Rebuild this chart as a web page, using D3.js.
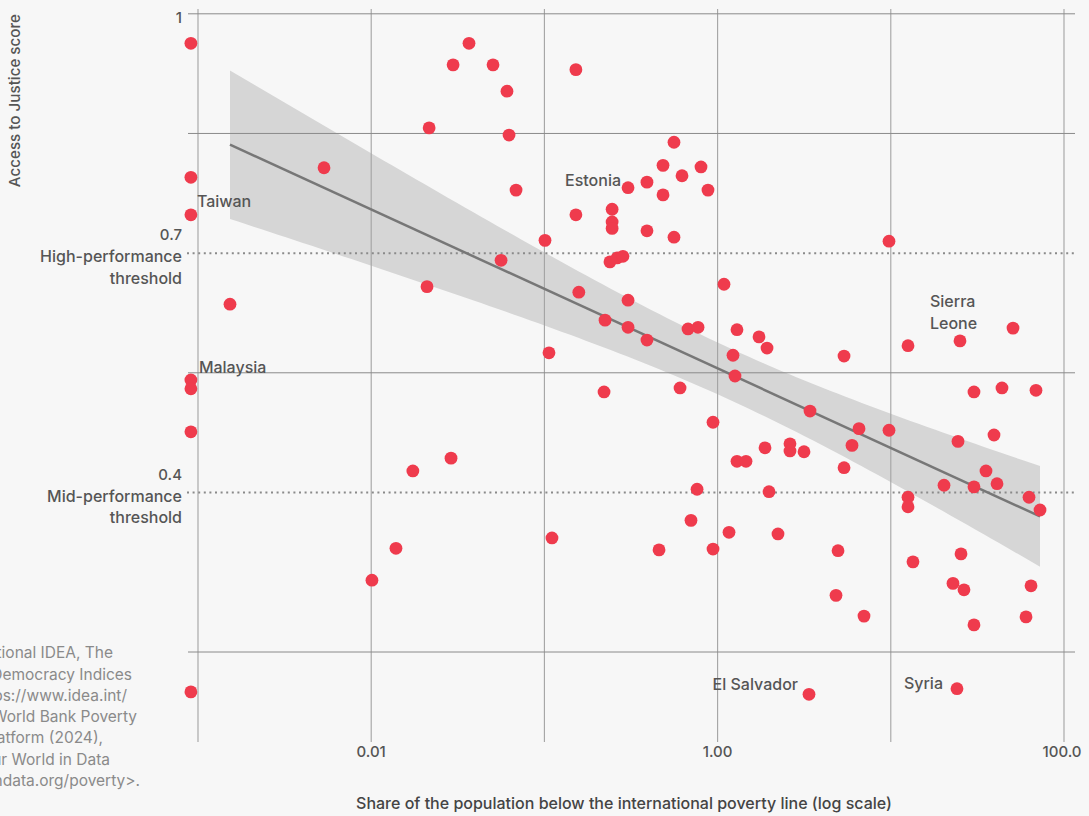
<!DOCTYPE html>
<html>
<head>
<meta charset="utf-8">
<script src="https://cdn.jsdelivr.net/npm/d3@7"></script>
<style>
  html, body { margin: 0; padding: 0; background: #f7f7f7; }
  svg { display: block; font-family: Inter, "Noto Sans", sans-serif; }
</style>
</head>
<body>
<svg id="chart" width="1089" height="816"></svg>
<script>
// Share of population below the international poverty line (%); 0 = no measured poverty
const povertyShare = [
  0, 0, 0, 0, 0, 0, 0,
  0.00153, 0.00534, 0.0101, 0.0139, 0.0174, 0.0210, 0.0216, 0.0289, 0.0297, 0.0367,
  0.0505, 0.0562, 0.0608, 0.0625, 0.0686, 0.1008, 0.1063, 0.1106, 0.152, 0.152,
  0.158, 0.221, 0.224, 0.239, 0.263, 0.284, 0.246, 0.246, 0.246, 0.304,
  0.304, 0.304, 0.391, 0.391, 0.391, 0.459, 0.484, 0.484, 0.560, 0.560,
  0.607, 0.623, 0.675, 0.771, 0.702, 0.761, 0.802, 0.880, 0.941, 0.941,
  1.089, 1.164, 1.227, 1.260, 1.294, 1.294, 1.459, 1.734, 1.878, 1.929,
  1.981, 2.232, 2.618, 2.618, 3.154, 3.371, 3.416, 4.827, 4.957, 5.370,
  5.370, 5.970, 6.553, 7.003, 9.763, 9.763, 12.57, 12.57, 12.57, 13.43,
  20.29, 22.86, 24.11, 24.43, 25.09, 25.43, 26.46, 30.22, 30.22, 30.22,
  35.45, 39.43, 41.04, 43.85, 50.77, 60.35, 62.81, 64.5, 68.9, 72.7
];

// Access to Justice score, same order
const justiceScore = [
  0.963, 0.795, 0.748, 0.541, 0.530, 0.476, 0.150,
  0.636, 0.807, 0.290, 0.330, 0.427, 0.658, 0.857, 0.443, 0.936, 0.963,
  0.936, 0.691, 0.903, 0.848, 0.779, 0.716, 0.575, 0.343, 0.930, 0.748,
  0.651, 0.526, 0.616, 0.689, 0.694, 0.696, 0.755, 0.739, 0.731, 0.782,
  0.641, 0.607, 0.789, 0.728, 0.591, 0.328, 0.810, 0.773, 0.839, 0.720,
  0.531, 0.797, 0.605, 0.607, 0.365, 0.404, 0.808, 0.779, 0.488, 0.329,
  0.661, 0.350, 0.572, 0.546, 0.604, 0.439, 0.439, 0.595, 0.456, 0.581,
  0.401, 0.348, 0.461, 0.452, 0.451, 0.147, 0.502, 0.271, 0.327, 0.571,
  0.431, 0.459, 0.480, 0.245, 0.715, 0.478, 0.584, 0.394, 0.382, 0.313,
  0.409, 0.286, 0.154, 0.464, 0.590, 0.323, 0.278, 0.526, 0.407, 0.234,
  0.427, 0.472, 0.411, 0.531, 0.606, 0.244, 0.394, 0.283, 0.528, 0.378
];

// Named countries (index into the arrays above)
const labelNames = [["Taiwan"], ["Malaysia"], ["Estonia"], ["Sierra", "Leone"], ["El Salvador"], ["Syria"]];
const labelIndex = [2, 3, 36, 91, 72, 89];

// Axis ticks
const xGridValues = [0.001, 0.01, 0.1, 1, 10, 100];
const xTickValues = [0.01, 1, 100];
const xTickLabels = ["0.01", "1.00", "100.0"];
const yGridValues = [1, 0.85, 0.55, 0.2];
const yTickValues = [1];
const yTickLabels = ["1"];
const thresholdValues = [0.7, 0.4];
const thresholdTickLabels = ["0.7", "0.4"];
const thresholdNames = [["High-performance", "threshold"], ["Mid-performance", "threshold"]];

const sourceLines = [
  "Source: International IDEA, The",
  "Global State of Democracy Indices",
  "(2023) <https://www.idea.int/",
  "gsod-indices>; World Bank Poverty",
  "and Inequality Platform (2024),",
  "processed by Our World in Data",
  "<https://ourworldindata.org/poverty>."
];

// ---------------------------------------------------------------
const svg = d3.select("#chart");
const ZERO_FLOOR = 0.00091;   // where zero-poverty countries sit on the log axis

const x = d3.scaleLog().domain([0.001, 100]).range([198, 1064]);
const y = d3.scaleLinear().domain([0.2, 1]).range([652, 13.8]);
const xPos = v => x(v > 0 ? v : ZERO_FLOOR);

const points = povertyShare.map((p, i) => ({ p, s: justiceScore[i] }));

// Linear fit of score on log10(poverty share), zero-poverty countries excluded
const fitPts = points.filter(d => d.p > 0).map(d => ({ u: Math.log10(d.p), v: d.s }));
const n = fitPts.length;
const uMean = d3.mean(fitPts, d => d.u);
const vMean = d3.mean(fitPts, d => d.v);
const Sxx = d3.sum(fitPts, d => (d.u - uMean) ** 2);
const Sxy = d3.sum(fitPts, d => (d.u - uMean) * (d.v - vMean));
const slope = Sxy / Sxx;
const intercept = vMean - slope * uMean;
const sResid = Math.sqrt(d3.sum(fitPts, d => (d.v - intercept - slope * d.u) ** 2) / (n - 2));
const tCrit = 1.984;
const fitAt = u => intercept + slope * u;
const halfCI = u => tCrit * sResid * Math.sqrt(1 / n + (u - uMean) ** 2 / Sxx);

const uMin = d3.min(fitPts, d => d.u), uMax = d3.max(fitPts, d => d.u);
const uSteps = d3.range(0, 101).map(k => uMin + (uMax - uMin) * k / 100);

// 95% confidence band
svg.append("path")
  .datum(uSteps)
  .attr("fill", "#d6d6d6")
  .attr("d", d3.area()
    .x(u => x(10 ** u))
    .y0(u => y(fitAt(u) - halfCI(u)))
    .y1(u => y(fitAt(u) + halfCI(u))));

// Grid
const grid = svg.append("g");
grid.selectAll("line.v").data(xGridValues).join("line")
  .attr("x1", d => x(d)).attr("x2", d => x(d))
  .attr("y1", 9).attr("y2", 742)
  .attr("stroke", "#a3a3a3").attr("stroke-width", 1.1);
grid.selectAll("line.h").data(yGridValues).join("line")
  .attr("x1", 188).attr("x2", 1075)
  .attr("y1", d => y(d)).attr("y2", d => y(d))
  .attr("stroke", "#8a8a8a").attr("stroke-width", 1);

// Threshold lines
grid.selectAll("line.t").data(thresholdValues).join("line")
  .attr("x1", 187).attr("x2", 1076)
  .attr("y1", d => y(d)).attr("y2", d => y(d))
  .attr("stroke", "#8a8a8a").attr("stroke-width", 2)
  .attr("stroke-dasharray", "2 3.6");

// Fit line
svg.append("path")
  .datum([uMin, uMax])
  .attr("fill", "none")
  .attr("stroke", "#777")
  .attr("stroke-width", 2.5)
  .attr("d", d3.line().x(u => x(10 ** u)).y(u => y(fitAt(u))));

// Y tick labels
const labelColor = "#555";
svg.append("g").selectAll("text").data(yTickValues).join("text")
  .attr("x", 182).attr("y", d => y(d) + 5)
  .attr("text-anchor", "end").attr("dominant-baseline", "middle")
  .attr("font-size", 15).attr("font-weight", 500).attr("fill", labelColor)
  .text((d, i) => yTickLabels[i]);

const thr = svg.append("g").selectAll("g").data(thresholdValues).join("g")
  .attr("transform", d => `translate(182,${y(d)})`);
thr.append("text")
  .attr("y", -17).attr("text-anchor", "end").attr("dominant-baseline", "middle")
  .attr("font-size", 15).attr("font-weight", 500).attr("fill", labelColor)
  .text((d, i) => thresholdTickLabels[i]);
thr.each(function (d, i) {
  d3.select(this).selectAll("text.name").data(thresholdNames[i]).join("text")
    .attr("class", "name")
    .attr("y", (t, k) => 5 + k * 21.5)
    .attr("text-anchor", "end").attr("dominant-baseline", "middle")
    .attr("font-size", 16).attr("font-weight", 500).attr("fill", labelColor)
    .text(t => t);
});

// X tick labels
svg.append("g").selectAll("text").data(xTickValues).join("text")
  .attr("x", (d, i) => x(d) - (i === xTickValues.length - 1 ? 2 : 0))
  .attr("y", 753)
  .attr("text-anchor", "middle").attr("dominant-baseline", "middle")
  .attr("font-size", 15).attr("font-weight", 500).attr("fill", labelColor)
  .text((d, i) => xTickLabels[i]);

// Axis titles
svg.append("text")
  .attr("x", 624).attr("y", 805)
  .attr("text-anchor", "middle").attr("dominant-baseline", "middle")
  .attr("font-size", 16).attr("font-weight", 500).attr("fill", "#444")
  .text("Share of the population below the international poverty line (log scale)");

svg.append("text")
  .attr("transform", "translate(16,14) rotate(-90)")
  .attr("text-anchor", "end").attr("dominant-baseline", "middle")
  .attr("font-size", 15.2).attr("font-weight", 500).attr("fill", "#555")
  .text("Access to Justice score");

// Source note (runs off the left edge)
const sourceRight = [113, 132, 127, 137, 103, 110, 140];
svg.append("g").selectAll("text").data(sourceLines).join("text")
  .attr("x", (d, i) => sourceRight[i])
  .attr("y", (d, i) => 654 + i * 21.3)
  .attr("text-anchor", "end").attr("dominant-baseline", "middle")
  .attr("font-size", 15.5).attr("fill", "#8a8a8a")
  .text(d => d);

// Points
svg.append("g").selectAll("circle").data(points).join("circle")
  .attr("cx", d => xPos(d.p))
  .attr("cy", d => y(d.s))
  .attr("r", 6.4)
  .attr("fill", "#ef3b4d");

// Country labels
const labelLayout = [
  { dx: 6, dy: -12, anchor: "start" },
  { dx: 8, dy: -11, anchor: "start" },
  { dx: -7, dy: -6, anchor: "end" },
  { dx: -30, dy: -38, anchor: "start" },
  { dx: -11, dy: -9, anchor: "end" },
  { dx: -14, dy: -4, anchor: "end" }
];
labelIndex.forEach((idx, i) => {
  const d = points[idx];
  const L = labelLayout[i];
  svg.append("g").selectAll("text").data(labelNames[i]).join("text")
    .attr("x", xPos(d.p) + L.dx)
    .attr("y", (t, k) => y(d.s) + L.dy + k * 21.5)
    .attr("text-anchor", L.anchor).attr("dominant-baseline", "middle")
    .attr("font-size", 16).attr("font-weight", 500).attr("fill", labelColor)
    .text(t => t);
});
</script>
</body>
</html>
